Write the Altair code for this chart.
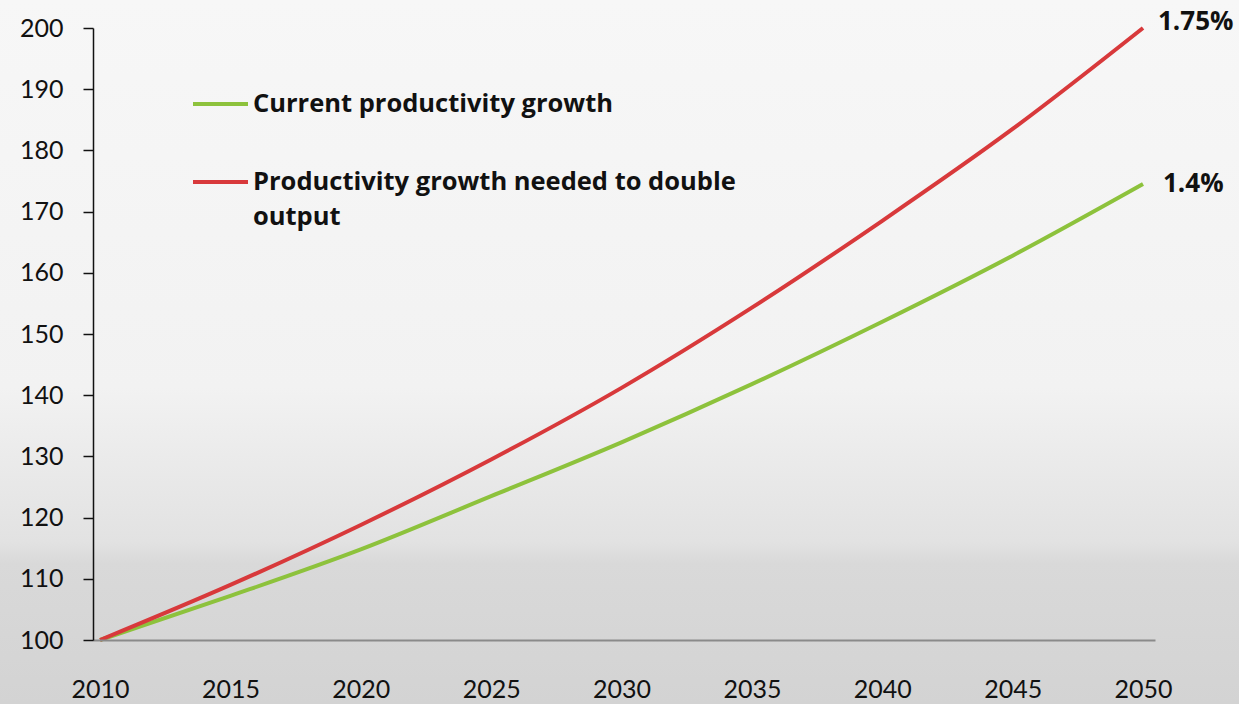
import altair as alt
import pandas as pd

# ---- data ----
years = [2010, 2015, 2020, 2025, 2030, 2035, 2040, 2045, 2050]
current_growth = [100, 107.2, 114.8, 123.5, 132.3, 141.8, 152.0, 162.8, 174.5]
needed_growth = [100, 109.0, 118.8, 129.5, 141.2, 154.3, 168.5, 183.5, 200.0]
series_names = ["Current productivity growth", "Productivity growth needed to double output"]
legend_texts = ["Current productivity growth", "Productivity growth needed to double\noutput"]
series_colors = ["#8dc23c", "#d8393b"]
end_labels = ["1.4%", "1.75%"]
y_ticks = [100, 110, 120, 130, 140, 150, 160, 170, 180, 190, 200]
x_ticks = [2010, 2015, 2020, 2025, 2030, 2035, 2040, 2045, 2050]

FONT = "Lato"
BFONT = "Open Sans"
W, H = 1062, 612

rows = []
for name, vals in zip(series_names, [current_growth, needed_growth]):
    for yr, v in zip(years, vals):
        rows.append({"year": yr, "value": v, "series": name})
df = pd.DataFrame(rows)

ends = pd.DataFrame({
    "year": [years[-1], years[-1]],
    "value": [current_growth[-1], needed_growth[-1]],
    "label": end_labels,
    "series": series_names,
})

xscale = alt.Scale(domain=[2009.73, 2050.46], nice=False, zero=False)
yscale = alt.Scale(domain=[100, 200], nice=False, zero=False)
cscale = alt.Scale(domain=series_names, range=series_colors)

# background gradient covering whole canvas
bg = alt.Chart(pd.DataFrame({"a": [0]})).mark_rect(
    fill=alt.Gradient(
        gradient="linear", x1=0, y1=0, x2=0, y2=1,
        stops=[
            alt.GradientStop(offset=0, color="#f7f7f7"),
            alt.GradientStop(offset=0.55, color="#f2f2f2"),
            alt.GradientStop(offset=0.77, color="#e2e2e2"),
            alt.GradientStop(offset=0.80, color="#d9d9d9"),
            alt.GradientStop(offset=1, color="#d3d3d3"),
        ],
    ),
).encode(
    x=alt.value(-93), x2=alt.value(W + 84),
    y=alt.value(-28), y2=alt.value(H + 64),
)

lines = alt.Chart(df).mark_line(strokeWidth=4, interpolate="monotone").encode(
    x=alt.X("year:Q", scale=xscale, axis=alt.Axis(
        values=x_ticks, format="d", title=None, grid=False, ticks=False,
        domainColor="#8a8a8a", domainWidth=2, labelFont=FONT, labelFontSize=25,
        labelColor="#111111", labelPadding=37, zindex=1, labelFlush=False)),
    y=alt.Y("value:Q", scale=yscale, axis=alt.Axis(
        values=y_ticks, title=None, grid=False, domainColor="#111111", domainWidth=1.5,
        tickColor="#111111", tickWidth=1.5, tickSize=10, labelPadding=20,
        labelFont=FONT, labelFontSize=25, labelColor="#111111", zindex=1)),
    color=alt.Color("series:N", scale=cscale, legend=None),
)

end_red = alt.Chart(ends[ends["label"] == end_labels[1]]).mark_text(
    align="left", baseline="middle", font=BFONT, fontWeight="bold", fontSize=26,
    color="#111111", dx=15, dy=-6,
).encode(x=alt.X("year:Q", scale=xscale), y=alt.Y("value:Q", scale=yscale), text="label:N")

end_green = alt.Chart(ends[ends["label"] == end_labels[0]]).mark_text(
    align="left", baseline="middle", font=BFONT, fontWeight="bold", fontSize=26,
    color="#111111", dx=20, dy=0,
).encode(x=alt.X("year:Q", scale=xscale), y=alt.Y("value:Q", scale=yscale), text="label:N")

# legend (annotation)
leg = pd.DataFrame({
    "series": series_names,
    "text": legend_texts,
    "ly": [76, 154],
})
leg_lines = alt.Chart(leg).mark_rule(strokeWidth=4).encode(
    x=alt.value(100), x2=alt.value(155),
    y=alt.Y("ly:Q", scale=None),
    color=alt.Color("series:N", scale=cscale, legend=None),
)
leg_text = alt.Chart(leg).mark_text(
    align="left", baseline="top", font=BFONT, fontWeight="bold", fontSize=25.5,
    color="#111111", lineBreak="\n", lineHeight=35, dy=-12,
).encode(
    x=alt.value(160),
    y=alt.Y("ly:Q", scale=None),
    text="text:N",
)

chart = alt.layer(bg, lines, end_red, end_green, leg_lines, leg_text).properties(
    width=W, height=H,
    padding={"left": 93, "top": 28, "right": 84, "bottom": 64},
    autosize=alt.AutoSizeParams(type="none"),
    background="#f4f4f4",
).configure_view(stroke=None)

chart.save("out.html", embed_options={"renderer": "svg", "actions": False})
